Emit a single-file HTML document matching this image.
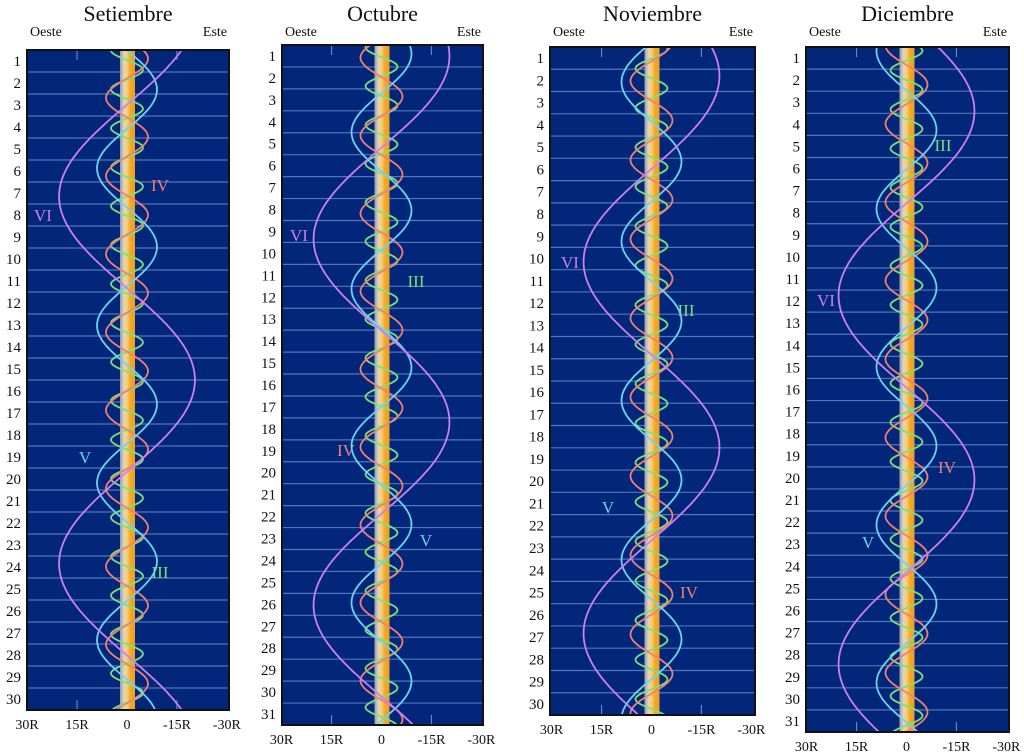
<!DOCTYPE html>
<html><head><meta charset="utf-8">
<style>
html,body{margin:0;padding:0;background:#fff;}
svg{display:block;}
text{font-family:"Liberation Serif",serif;}
</style></head>
<body>
<svg id="chart" width="1024" height="754" viewBox="0 0 1024 754" xmlns="http://www.w3.org/2000/svg">
<defs>
<linearGradient id="strip" x1="0" x2="1" y1="0" y2="0">
<stop offset="0" stop-color="#9a9aa0"/>
<stop offset="0.25" stop-color="#d8d4c8"/>
<stop offset="0.45" stop-color="#f6d27a"/>
<stop offset="0.7" stop-color="#f5a820"/>
<stop offset="1" stop-color="#e8a030"/>
</linearGradient>
</defs>
</svg>
<script>
// data
const months = ["Setiembre","Octubre","Noviembre","Diciembre"];
const monthDays = [30,31,30,31];
const monthStart = [0,30,61,91];
const moonNames = ["III","IV","V","VI"];
const moonColors = ["#7de07a","#ee8078","#6cd4f0","#cc80ee"];
const moonPeriods = [1.77,3.55,7.15,16.69];
const moonAmpsR = [4.8,6.3,9.0,20.4];
const moonT0 = [0.9,0.4,1.8,15];
const purpleT0 = [15,0.5,1.3,2.9];
const tickLabels = ["30R","15R","0","-15R","-30R"];
const tickValuesR = [30,15,0,-15,-30];
// label anchor positions (pixels) per panel, per moon III, IV, V, VI
const labelPos = [
  [[160,572],[160,185],[85,457],[43,215]],
  [[416,281],[346,450],[426,540],[299,235]],
  [[686,310],[689,592],[608,507],[570,262]],
  [[943,145],[947,467],[868,542],[826,300]]
];

// layout
const panels = [
  {x0:27,x1:229,y0:50,y1:710},
  {x0:282,x1:483,y0:45,y1:725},
  {x0:550,x1:755,y0:47,y1:715},
  {x0:806,x1:1009,y0:47,y1:732}
];
const PXR = 3.33;
const svg = document.getElementById('chart');
const NS = "http://www.w3.org/2000/svg";
function mk(tag, attrs, parent){
  const e = document.createElementNS(NS, tag);
  for (const k in attrs) e.setAttribute(k, attrs[k]);
  (parent||svg).appendChild(e);
  return e;
}
function txt(s, attrs, parent){ const e = mk('text', attrs, parent); e.textContent = s; return e; }

panels.forEach((p, pi) => {
  const g = mk('g', {});
  
  
  const cx = (p.x0 + p.x1) / 2 - 1;
  const nd = monthDays[pi];
  const rowH = (p.y1 - p.y0) / nd;
  const xS = r => cx - r * PXR;
  const yS = t => p.y0 + t * rowH;

  const title = txt(months[pi], {x:(p.x0+p.x1)/2, y:21, 'text-anchor':'middle', 'font-size':22, fill:'#111'}, g);
  
  
  const oe = txt("Oeste", {x:p.x0+3, y:36, 'font-size':14, fill:'#111'}, g);
  
  
  const es = txt("Este", {x:p.x1-2, y:36, 'text-anchor':'end', 'font-size':14, fill:'#111'}, g);
  
  

  const bg = mk('rect', {x:p.x0, y:p.y0, width:p.x1-p.x0, height:p.y1-p.y0, fill:'#02267a', stroke:'#111', 'stroke-width':2}, g);
  
  

  for (let d = 1; d < nd; d++) {
    const ln = mk('line', {x1:p.x0+1, x2:p.x1-1, y1:yS(d), y2:yS(d), stroke:'#5e86c8', 'stroke-width':1.2, opacity:0.85}, g);
    
    
  }
  for (let d = 1; d <= nd; d++) {
    const dl = txt(String(d), {x:p.x0-6, y:yS(d-0.5)+5, 'text-anchor':'end', 'font-size':15, fill:'#111'}, g);
    
    
  }
  [15,-15].forEach(r => {
    const t1 = mk('line', {x1:xS(r), x2:xS(r), y1:p.y0+1, y2:p.y0+10, stroke:'#5e86c8', 'stroke-width':1.2}, g);
    
    
    const t2 = mk('line', {x1:xS(r), x2:xS(r), y1:p.y1-10, y2:p.y1-1, stroke:'#5e86c8', 'stroke-width':1.2}, g);
    
    
  });
  tickLabels.forEach((lab, i) => {
    const tl = txt(lab, {x:xS(tickValuesR[i]), y:p.y1+19, 'text-anchor':'middle', 'font-size':14, fill:'#111'}, g);
    
    
  });

  const st = mk('rect', {x:cx-7, y:p.y0+1, width:15, height:p.y1-p.y0-2, fill:'url(#strip)'}, g);
  
  

  const clip = mk('clipPath', {id:'clip'+pi}, g);
  mk('rect', {x:p.x0+1, y:p.y0+1, width:p.x1-p.x0-2, height:p.y1-p.y0-2}, clip);

  moonNames.forEach((mn, mi) => {
    const per = moonPeriods[mi], amp = moonAmpsR[mi];
    const t0 = mi === 3 ? purpleT0[pi] : moonT0[mi] - monthStart[pi];
    let dstr = "";
    const steps = nd * 20;
    for (let s = 0; s <= steps; s++) {
      const t = s * nd / steps;
      const r = -amp * Math.cos(2 * Math.PI * (t - t0) / per);
      dstr += (s ? "L" : "M") + xS(r).toFixed(1) + "," + yS(t).toFixed(1);
    }
    const path = mk('path', {d:dstr, fill:'none', stroke:moonColors[mi], 'stroke-width':1.8, 'clip-path':'url(#clip'+pi+')'}, g);
    
    
    const lp = labelPos[pi][mi];
    const lt = txt(mn, {x:lp[0], y:lp[1]+6, 'text-anchor':'middle', 'font-size':17, fill:moonColors[mi]}, g);
    
    
  });
});
</script>
</body></html>
